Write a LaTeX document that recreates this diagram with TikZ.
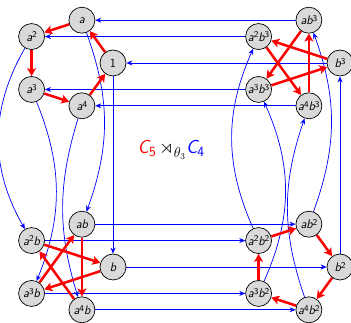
\documentclass[tikz,border=0pt]{standalone}
\usepackage{amsmath}
\usepackage{amssymb}
\usepackage{tikz}
\usetikzlibrary{arrows.meta, calc, backgrounds}

\newcommand{\pw}[1]{\raisebox{0.55ex}{\upshape\fontsize{9}{10}\selectfont #1}}
\newcommand{\ix}[1]{\raisebox{-0.4ex}{\upshape\fontsize{14}{16}\selectfont #1}}

\begin{document}
\begin{tikzpicture}[
        x=1pt, y=1pt,
        elem/.style={circle, draw=black, line width=0.7pt, fill=gray!30, minimum size=26pt, inner sep=0pt, font=\sffamily\itshape\fontsize{12.5}{14}\selectfont},
        gena/.style={-{Stealth[length=8pt, width=9pt, inset=2pt]}, line width=2.5pt, red},
        genb/.style={-{Stealth[length=6pt, width=5pt, inset=2pt]}, line width=0.7pt, blue},
        title/.style={font=\sffamily\itshape\fontsize{19}{22}\selectfont}
    ]
    \useasboundingbox (0,0) rectangle (351,323);

    % Centres of the four cosets
    \coordinate (tl) at (68,260);
    \coordinate (tr) at (295,260);
    \coordinate (bl) at (68,56);
    \coordinate (br) at (295,56);

    % Nodes
    \node[elem] (e)  at ($(tl)+(0:45)$)   {\upshape 1};
    \node[elem] (a)  at ($(tl)+(72:45)$)  {a};
    \node[elem] (a2) at ($(tl)+(144:45)$) {a\pw{2}};
    \node[elem] (a3) at ($(tl)+(216:45)$) {a\pw{3}};
    \node[elem] (a4) at ($(tl)+(288:45)$) {a\pw{4}};

    \node[elem] (b3)   at ($(tr)+(0:45)$)   {b\pw{3}};
    \node[elem] (ab3)  at ($(tr)+(72:45)$)  {ab\pw{3}};
    \node[elem] (a2b3) at ($(tr)+(144:45)$) {a\pw{2}b\pw{3}};
    \node[elem] (a3b3) at ($(tr)+(216:45)$) {a\pw{3}b\pw{3}};
    \node[elem] (a4b3) at ($(tr)+(288:45)$) {a\pw{4}b\pw{3}};

    \node[elem] (b)   at ($(bl)+(0:45)$)   {b};
    \node[elem] (ab)  at ($(bl)+(72:45)$)  {ab};
    \node[elem] (a2b) at ($(bl)+(144:45)$) {a\pw{2}b};
    \node[elem] (a3b) at ($(bl)+(216:45)$) {a\pw{3}b};
    \node[elem] (a4b) at ($(bl)+(288:45)$) {a\pw{4}b};

    \node[elem] (b2)   at ($(br)+(0:45)$)   {b\pw{2}};
    \node[elem] (ab2)  at ($(br)+(72:45)$)  {ab\pw{2}};
    \node[elem] (a2b2) at ($(br)+(144:45)$) {a\pw{2}b\pw{2}};
    \node[elem] (a3b2) at ($(br)+(216:45)$) {a\pw{3}b\pw{2}};
    \node[elem] (a4b2) at ($(br)+(288:45)$) {a\pw{4}b\pw{2}};

    \node[title] (name) at (171,173) {\textcolor{red}{C\ix{5}}\,$\rtimes_{\theta_3}$\textcolor{blue}{C\ix{4}}};

    \begin{scope}[on background layer]
        % Edges: right multiplication by b
        \foreach \s/\t in {ab3/a, a2b3/a2, b3/e, a3b3/a3, a4b3/a4,
                           ab/ab2, a2b/a2b2, b/b2, a3b/a3b2, a4b/a4b2}
            \draw[genb] (\s) -- (\t);
        \draw[genb] (e) -- (b);
        \draw[genb] (a) to[bend left=20] (ab);
        \draw[genb] (a2) to[bend right=30] (a2b);
        \draw[genb] (a3) to[bend left=22] (a3b);
        \draw[genb] (a4) to[bend right=17] (a4b);
        \draw[genb] (b2) -- (b3);
        \draw[genb] (ab2) to[bend right=20] (ab3);
        \draw[genb] (a2b2) to[bend left=24] (a2b3);
        \draw[genb] (a3b2) to[bend right=24] (a3b3);
        \draw[genb] (a4b2) to[bend left=19] (a4b3);

        % Edges: right multiplication by a
        \foreach \s/\t in {e/a, a/a2, a2/a3, a3/a4, a4/e,
                           b/a3b, a3b/ab, ab/a4b, a4b/a2b, a2b/b,
                           b2/a4b2, a4b2/a3b2, a3b2/a2b2, a2b2/ab2, ab2/b2,
                           b3/a2b3, a2b3/a4b3, a4b3/ab3, ab3/a3b3, a3b3/b3}
            \draw[gena] (\s) -- (\t);
    \end{scope}

\end{tikzpicture}
\end{document}
